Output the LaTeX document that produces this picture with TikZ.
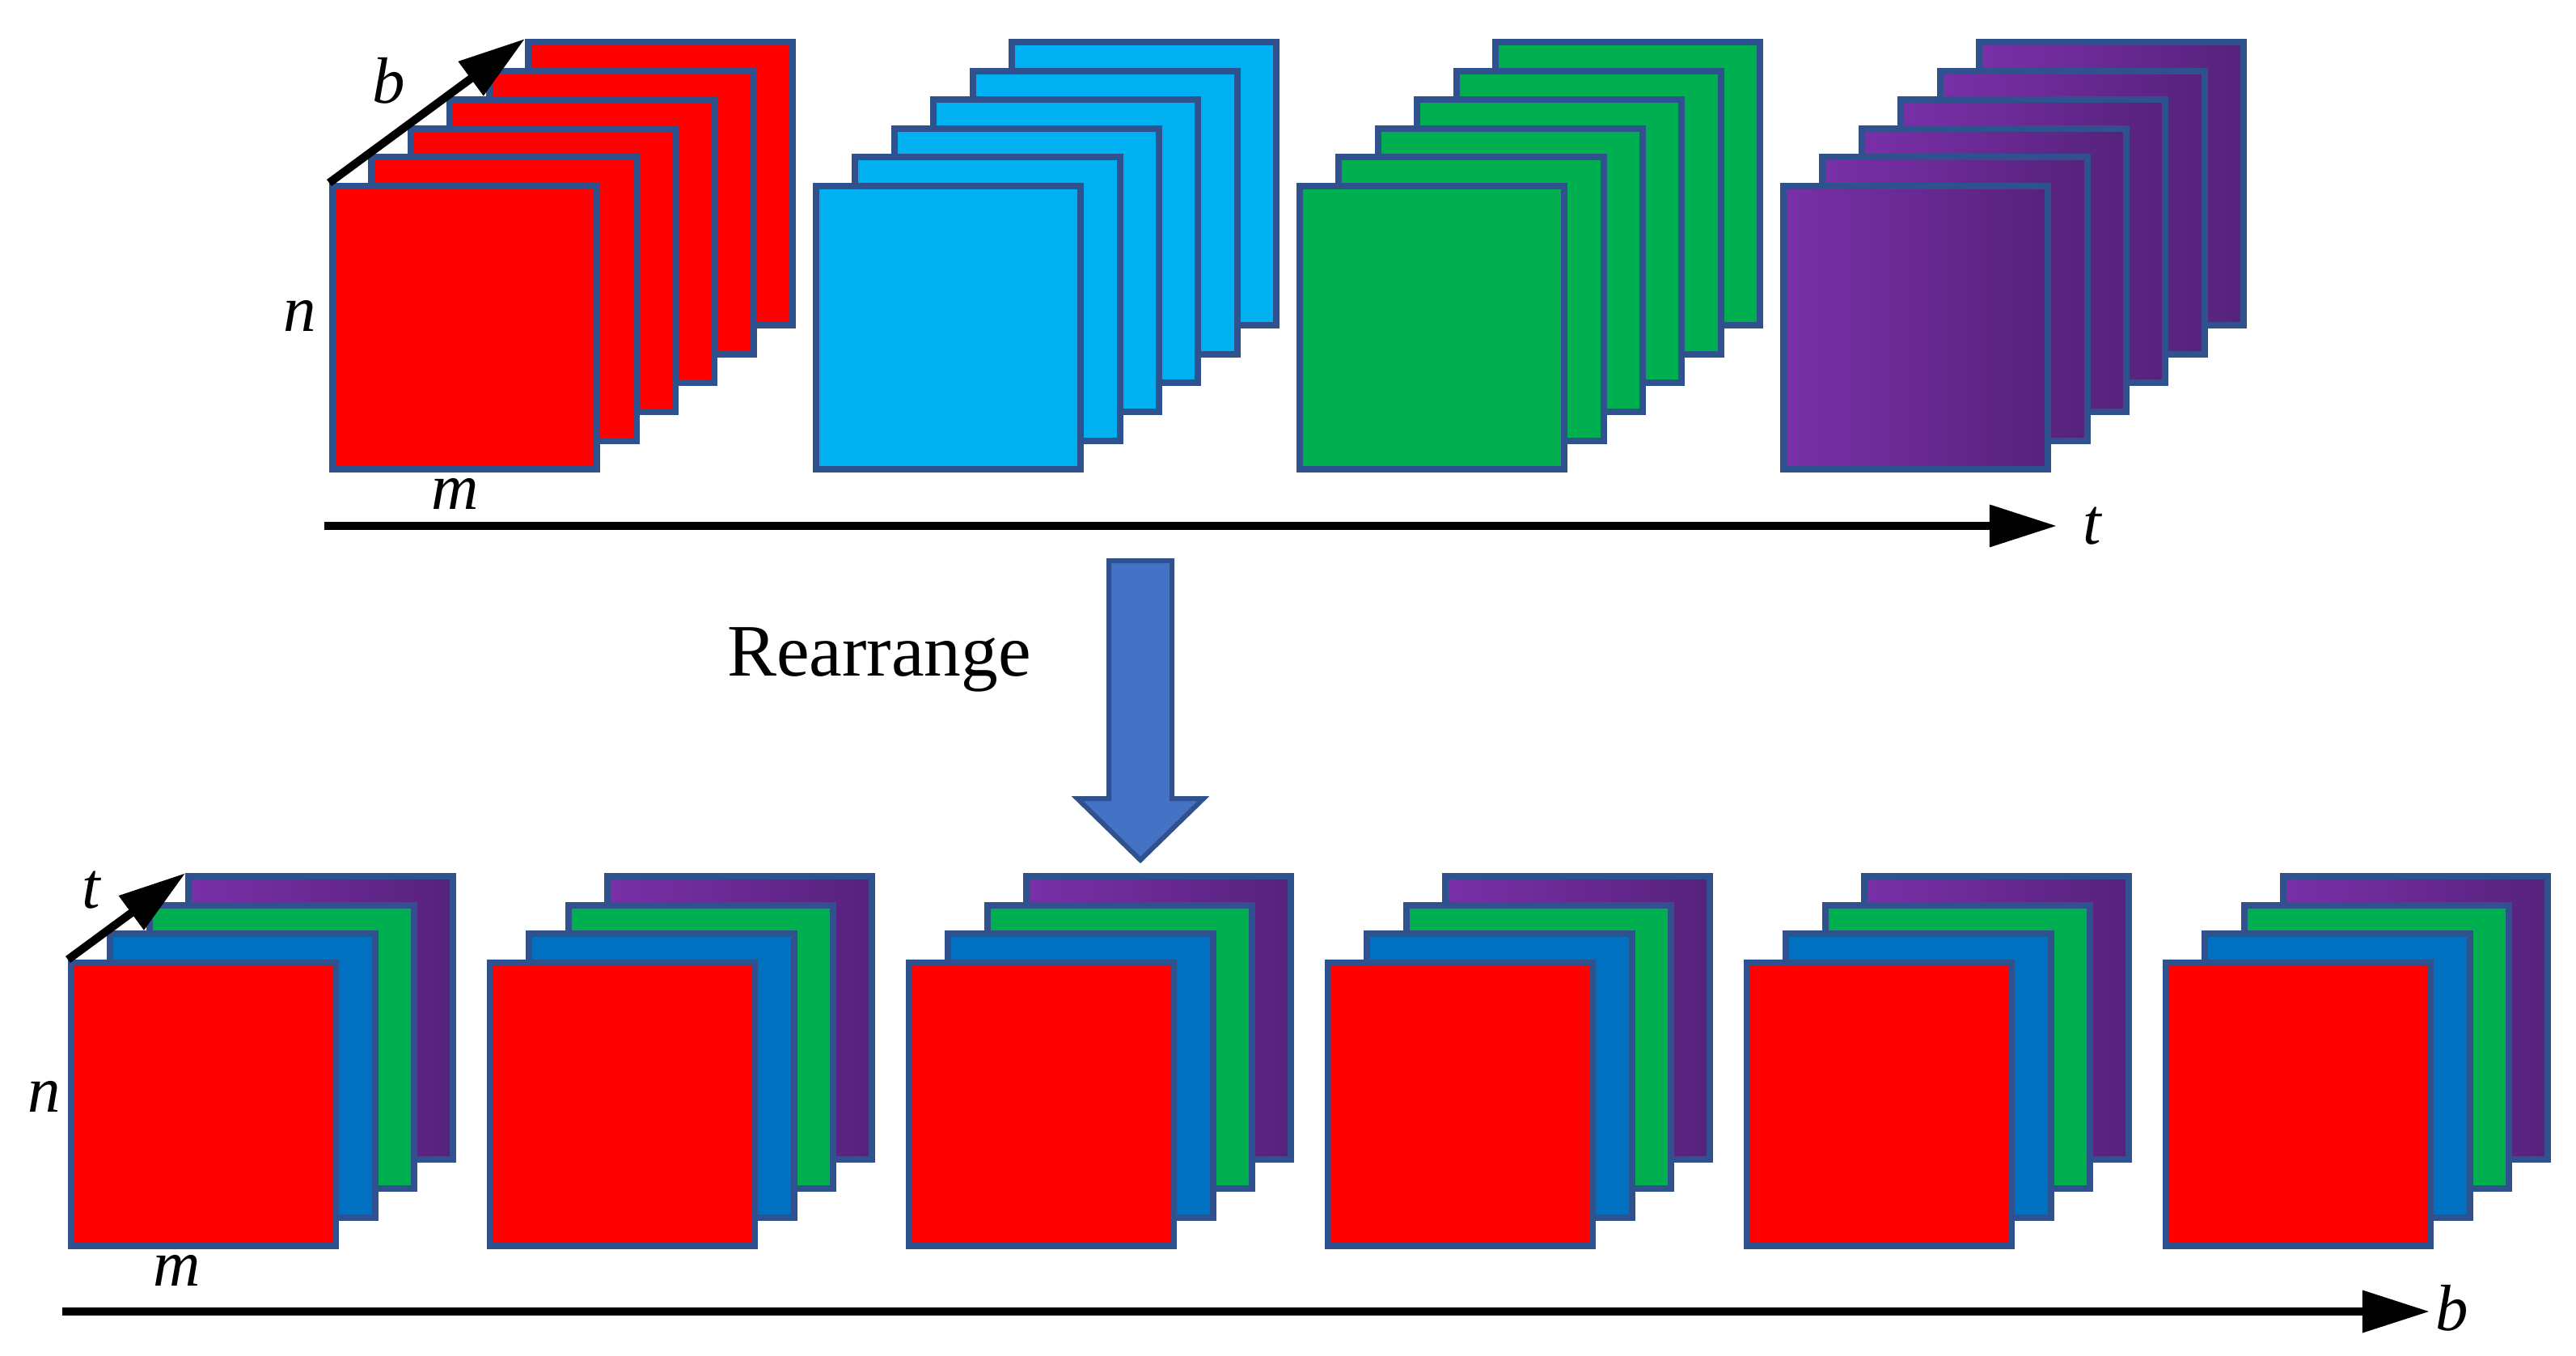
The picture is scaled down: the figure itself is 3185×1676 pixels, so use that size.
\documentclass[tikz,border=0pt]{standalone}
\usepackage{fontspec}
\setmainfont{Liberation Serif}
\usepackage{tikz}
\usetikzlibrary{arrows.meta, positioning}
\definecolor{framecol}{RGB}{47,82,143}
\definecolor{skyblue}{RGB}{0,176,240}
\definecolor{seablue}{RGB}{0,112,192}
\definecolor{leafgreen}{RGB}{0,176,80}
\definecolor{violetlight}{RGB}{122,48,168}
\definecolor{violetmid}{RGB}{116,46,162}
\definecolor{violetdark}{RGB}{86,34,124}
\definecolor{arrowfill}{RGB}{68,114,196}
\tikzset{
    slice/.style={draw=framecol, line width=0.08cm, minimum width=3.27cm, minimum height=3.5cm, inner sep=0pt, anchor=north west}, % one band of a cube
    slice red/.style={slice, fill=red},
    slice sky/.style={slice, fill=skyblue},
    slice sea/.style={slice, fill=seablue},
    slice green/.style={slice, fill=leafgreen},
    slice violet/.style={slice, left color=violetlight, middle color=violetmid, right color=violetdark},
    axis/.style={line width=0.1cm, -{Triangle[length=0.83cm, width=0.5cm]}}, % the thick black arrows
    dim/.style={inner sep=0pt, font=\fontsize{23}{23}\selectfont\itshape}, % the letters m, n, b, t
    bigarrow/.style={draw=framecol, fill=arrowfill, line width=0.06cm},
}

\begin{document}
\begin{tikzpicture}[x=0.01cm, y=-0.01cm
                    ]
    \useasboundingbox (0,0) rectangle (3185,1676);
    % cubes ordered along t
    \foreach \col [count=\k from 0] in {red,sky,green,violet} {
        \foreach \j in {5,...,0}
            \node[slice \col] (top-\k-\j) at ({407+598*\k+48.4*\j}, {226-35.6*\j}) {};
    }
    \coordinate (t-start) at (401,650);
    \coordinate (t-end) at (2543,650);
    \draw[axis] (t-start) -- (t-end);
    \draw[axis] (top-0-0.north west) -- (top-0-5.north west);
    \node[dim] (b-top) at (481,100) {b};
    \node[dim] (n-top) at (371,390) {n};
    \node[dim] (m-top) at (563,610) {m};
    \node[dim] (t-top) at (2587,650) {t};
    % rearrange step
    \draw[bigarrow] (1371,693) -- (1449,693) -- (1449,987) -- (1488,987) -- (1410,1063) -- (1332,987) -- (1371,987) -- cycle;
    \node[font=\fontsize{26}{26}\selectfont, anchor=base] (rearrange) at (1087,835) {Rearrange};
    % cubes ordered along b
    \foreach \k in {0,...,5} {
        \foreach \j/\col in {3/violet,2/green,1/sea,0/red}
            \node[slice \col] (bot-\k-\j) at ({84+518*\k+48.4*\j}, {1186-35.6*\j}) {};
    }
    \coordinate (b-start) at (77,1621);
    \coordinate (b-end) at (3004,1621);
    \draw[axis] (b-start) -- (b-end);
    \draw[axis] (bot-0-0.north west) -- (bot-0-3.north west);
    \node[dim] (t-bot) at (113,1100) {t};
    \node[dim] (n-bot) at (55,1355) {n};
    \node[dim] (m-bot) at (219,1570) {m};
    \node[dim] (b-bot) at (3032,1617) {b};
\end{tikzpicture}
\end{document}
